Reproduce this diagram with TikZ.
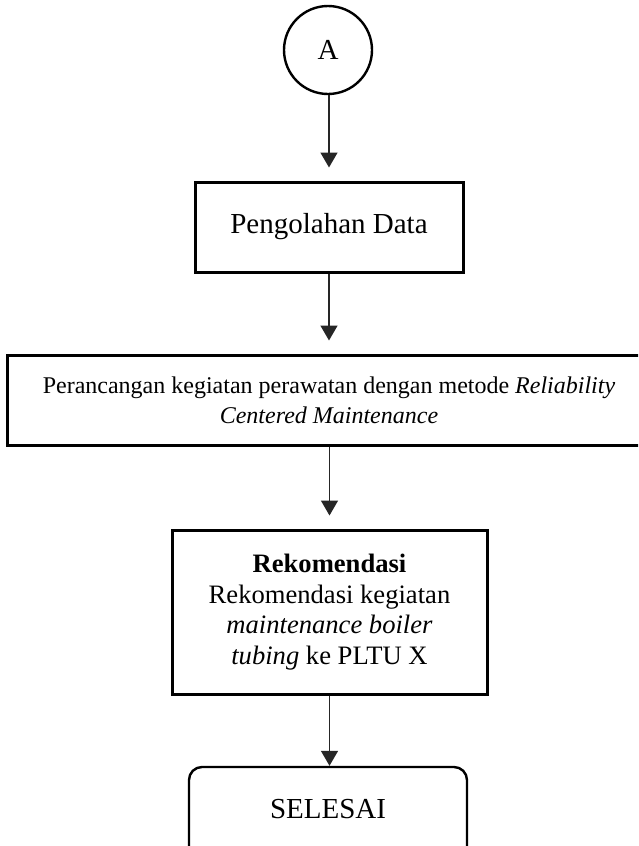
\documentclass[tikz,border=0pt]{standalone}
\usepackage{fontspec}
\setmainfont{Liberation Serif}
\usetikzlibrary{arrows.meta}
\begin{document}
\begin{tikzpicture}[x=1pt,y=-1pt,
  stepbox/.style={draw=black, line width=3pt, rectangle, inner sep=0pt, align=center},
  endbox/.style={draw=black, line width=2.4pt, rectangle, rounded corners=13pt, inner sep=0pt},
  conn/.style={draw=black!85, line width=1.5pt, -{Triangle[length=15pt,width=17pt]}},
  big/.style={font=\fontsize{29}{33}\selectfont},
  mid/.style={font=\fontsize{26.6}{30.7}\selectfont},
  small/.style={font=\fontsize{24}{30}\selectfont}]
  \clip (0,0) rectangle (638,846);
  \useasboundingbox (0,0) rectangle (638,846);

  % connector start
  \node[draw=black, line width=2.4pt, circle, minimum size=88pt, inner sep=0pt, big] (a) at (328,50) {A};

  % process steps
  \node[stepbox, big, minimum width=268pt, minimum height=90pt] (olah) at (329,227) {Pengolahan Data};
  \node[stepbox, small, minimum width=644pt, minimum height=90pt] (rcm) at (329,400)
    {Perancangan kegiatan perawatan dengan metode \textit{Reliability}\\\textit{Centered Maintenance}};
  \node[stepbox, mid, minimum width=315pt, minimum height=164pt] (rek) at (329.5,612)
    {\textbf{Rekomendasi}\\Rekomendasi kegiatan\\\textit{maintenance boiler}\\\textit{tubing} ke PLTU X};

  % terminator
  \node[endbox, big, minimum width=278pt, minimum height=96pt] (end) at (328,815) {};
  \node[big, anchor=base] (endtxt) at (328,818) {SELESAI};

  % flow
  \draw[conn, shorten >=13pt] (a.south -| olah.north) -- (olah.north);
  \draw[conn, shorten >=13pt] (olah.south) -- (olah.south |- rcm.north);
  \draw[conn, shorten >=13pt] (rek.north |- rcm.south) -- (rek.north);
  \draw[conn] (rek.south) -- (rek.south |- end.north);
\end{tikzpicture}
\end{document}
